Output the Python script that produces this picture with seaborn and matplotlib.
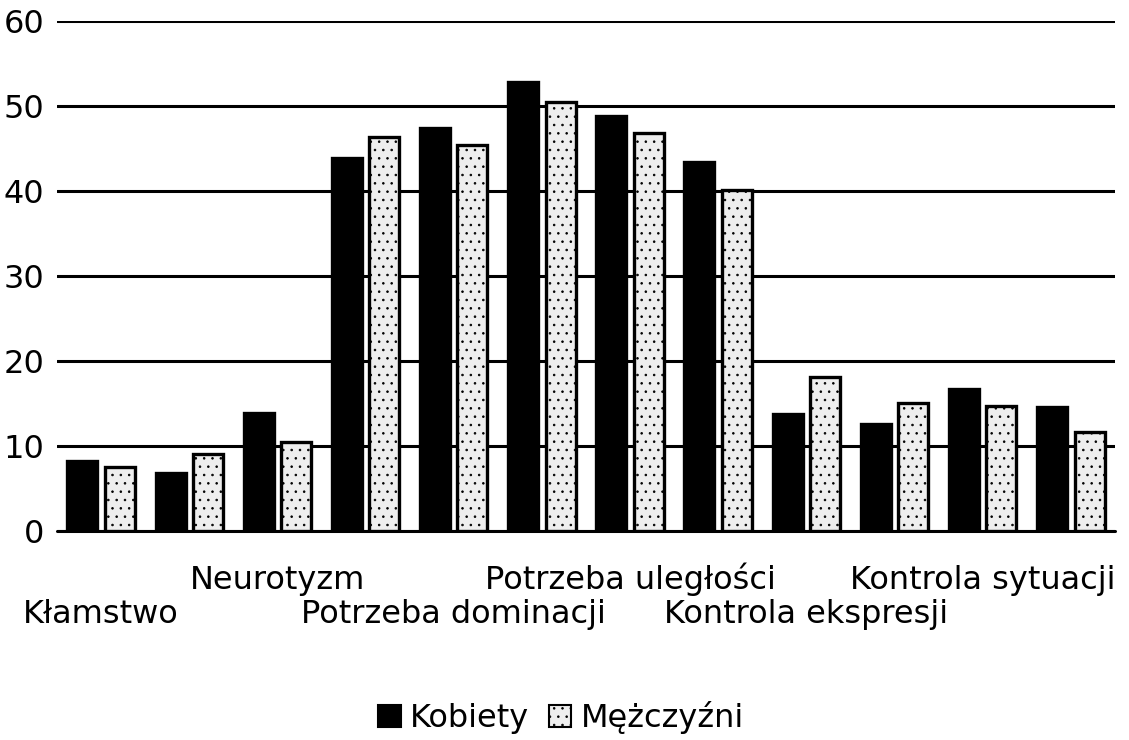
import matplotlib
matplotlib.use("Agg")
import matplotlib.pyplot as plt
import seaborn as sns
import pandas as pd
from matplotlib.patches import Patch

categories = ["Kłamstwo", "Skala 2", "Neurotyzm", "Skala 4", "Potrzeba dominacji", "Skala 6",
              "Potrzeba uległości", "Skala 8", "Kontrola ekspresji", "Skala 10",
              "Kontrola sytuacji", "Skala 12"]
upper_labels = {2: "Neurotyzm", 6: "Potrzeba uległości", 10: "Kontrola sytuacji"}
lower_labels = {0: "Kłamstwo", 4: "Potrzeba dominacji", 8: "Kontrola ekspresji"}
kobiety = [8.2, 6.8, 13.9, 43.9, 47.4, 52.8, 48.8, 43.4, 13.8, 12.6, 16.7, 14.6]
mezczyzni = [7.5, 9.1, 10.5, 46.4, 45.4, 50.5, 46.8, 40.1, 18.1, 15.1, 14.7, 11.6]
series = ["Kobiety", "Mężczyźni"]
yticks = [0, 10, 20, 30, 40, 50, 60]

df = pd.DataFrame({
    "cat": categories * 2,
    "val": kobiety + mezczyzni,
    "grp": [series[0]] * len(categories) + [series[1]] * len(categories),
})

sns.set_style("white")
plt.rcParams['font.family'] = ['DejaVu Sans']
plt.rcParams['text.color'] = 'black'
plt.rcParams['xtick.color'] = 'black'
plt.rcParams['ytick.color'] = 'black'
plt.rcParams['hatch.linewidth'] = 0.6

fig = plt.figure(figsize=(11.29, 7.4), dpi=100)
ax = fig.add_axes([0.0505, 0.2824, 0.937, 0.6892])

colors = {"Kobiety": "#000000", "Mężczyźni": "#eeeeee"}
sns.barplot(data=df, x="cat", y="val", hue="grp", palette=colors, order=categories,
            hue_order=series, width=0.85, gap=0.2, edgecolor="black", linewidth=2.4,
            legend=False, ax=ax, zorder=3)

n = len(categories)
for i, p in enumerate(ax.patches):
    if i >= n:
        p.set_hatch("..")

ax.set_ylim(0, 60)
ax.set_yticks(yticks)
ax.yaxis.grid(True, color="black", linewidth=2.2)
ax.axhline(0, color="black", linewidth=2.2, clip_on=False, zorder=2)
ax.set_axisbelow(True)
for s in ax.spines.values():
    s.set_visible(False)
ax.tick_params(axis="both", which="both", length=0, labelsize=23, labelcolor="black")
ax.tick_params(axis="y", pad=9)

up_pos = sorted(upper_labels)
lo_pos = sorted(lower_labels)
ax.set_xticks(up_pos)
ax.set_xticklabels([upper_labels[k] for k in up_pos], va="baseline")
ax.set_xticks(lo_pos, minor=True)
ax.set_xticklabels([lower_labels[k] for k in lo_pos], minor=True, va="baseline")
ax.tick_params(axis="x", which="major", pad=42)
ax.tick_params(axis="x", which="minor", pad=66)
ax.xaxis.grid(False, which="both")
ax.set_xlabel("")
ax.set_ylabel("")
ax.set_xlim(-0.5, n - 0.5)

handles = [Patch(facecolor="black", edgecolor="black", linewidth=1.5),
           Patch(facecolor="#eeeeee", edgecolor="black", linewidth=1.5, hatch="..")]
fig.legend(handles=handles, labels=series, loc="center", bbox_to_anchor=(0.497, 0.03),
           ncol=2, frameon=False, fontsize=23, handlelength=0.7, handleheight=0.7,
           handletextpad=0.3, columnspacing=0.6, borderaxespad=0)

fig.savefig("out.png", dpi=100)
